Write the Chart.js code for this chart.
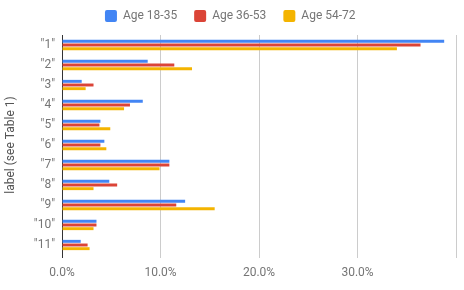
<!DOCTYPE html>
<html>
<head>
<meta charset="utf-8">
<script src="https://cdn.jsdelivr.net/npm/chart.js@4/dist/chart.umd.min.js"></script>
<style>
  html, body { margin: 0; padding: 0; background: #fff; }
  #wrap { width: 464px; height: 290px; }
</style>
</head>
<body>
<div id="wrap"><canvas id="ageChart" width="464" height="290"></canvas></div>
<script>
// labels and values (percent)
const categories = ['"1"', '"2"', '"3"', '"4"', '"5"', '"6"', '"7"', '"8"', '"9"', '"10"', '"11"'];
const age18to35 = [38.8, 8.7, 2.0, 8.2, 3.9, 4.3, 10.9, 4.8, 12.5, 3.5, 1.9];
const age36to53 = [36.4, 11.4, 3.2, 6.9, 3.8, 3.9, 10.9, 5.6, 11.6, 3.5, 2.6];
const age54to72 = [34.0, 13.2, 2.4, 6.3, 4.9, 4.5, 9.9, 3.2, 15.5, 3.2, 2.8];
const xTicks = [0, 10, 20, 30, 40];

Chart.defaults.font.family = "Roboto, 'Noto Sans', sans-serif";
Chart.defaults.font.size = 12;
Chart.defaults.color = '#757575';

// fixed legend height so the plot starts where the reference does
const legendHeight = {
    id: 'legendHeight',
    beforeInit(chart) {
        const fit = chart.legend.fit;
        chart.legend.fit = function () {
            fit.bind(chart.legend)();
            this.height = 42;
        };
    }
};

const ctx = document.getElementById('ageChart');
new Chart(ctx, {
    type: 'bar',
    data: {
        labels: categories,
        datasets: [
            { label: 'Age 18-35', data: age18to35, backgroundColor: '#4285F4' },
            { label: 'Age 36-53', data: age36to53, backgroundColor: '#DB4437' },
            { label: 'Age 54-72', data: age54to72, backgroundColor: '#F4B400' }
        ]
    },
    options: {
        indexAxis: 'y',
        responsive: false,
        animation: false,
        categoryPercentage: 0.55,
        barPercentage: 0.8,
        layout: { padding: { top: -7, left: 0, right: 3.5, bottom: 0 } },
        plugins: {
            tooltip: { enabled: false },
            legend: {
                position: 'top',
                align: 'center',
                labels: {
                    boxWidth: 12,
                    boxHeight: 12,
                    padding: 17,
                    useBorderRadius: true,
                    borderRadius: 2,
                    color: '#757575',
                    font: { size: 12 }
                }
            }
        },
        scales: {
            x: {
                min: 0,
                max: 40,
                afterBuildTicks: function (scale) {
                    scale.ticks = xTicks.map(v => ({ value: v }));
                },
                afterFit: function (scale) { scale.height = 35; },
                border: { display: false },
                grid: {
                    color: c => (c.tick && c.tick.value === 0) ? '#333333' : '#cccccc',
                    drawTicks: true,
                    tickLength: 3
                },
                ticks: {
                    padding: 8,
                    maxRotation: 0,
                    callback: v => v === 40 ? '' : v.toFixed(1) + '%'
                }
            },
            y: {
                afterFit: function (scale) { scale.width = 62; },
                border: { display: false },
                grid: { display: false, drawTicks: false },
                ticks: { padding: 7, color: '#757575' },
                title: {
                    display: true,
                    text: 'label (see Table 1)',
                    color: '#555555',
                    font: { size: 12 },
                    padding: { top: 4, bottom: 0 }
                }
            }
        }
    },
    plugins: [legendHeight]
});
</script>
</body>
</html>
